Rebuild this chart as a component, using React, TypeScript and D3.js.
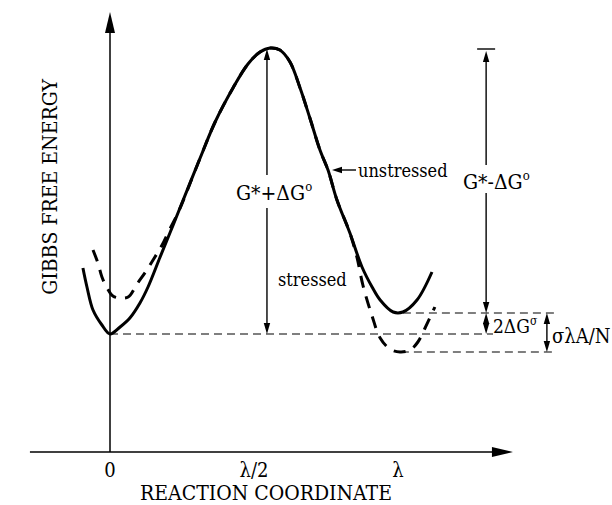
import React from "react";
import * as d3 from "d3";

// Reaction coordinate in units of λ, Gibbs free energy in arbitrary units.
const tickValues = [0, 0.5, 1];
const tickLabels = ["0", "λ/2", "λ"];

// Unstressed free-energy profile (solid curve)
const unstressedX = [
  -0.094, -0.08, -0.059, -0.028, 0, 0.035, 0.069, 0.104, 0.132, 0.174, 0.208, 0.236,
  0.313, 0.365, 0.427, 0.479, 0.521, 0.556, 0.59, 0.625, 0.66, 0.694, 0.729, 0.757,
  0.788, 0.833, 0.875, 0.91, 0.938, 0.983, 1.017, 1.066, 1.118,
];
const unstressedG = [
  18.4, 16.5, 14.2, 12.7, 11.8, 12.5, 13.4, 14.9, 16.5, 19.5, 21.9, 23.9,
  29.4, 33.0, 36.4, 38.8, 40.0, 40.4, 40.2, 39.0, 36.4, 33.4, 30.2, 28.2,
  25.2, 21.9, 18.5, 16.5, 15.2, 14.0, 14.0, 15.2, 18.0,
];

// Stressed free-energy profile (dashed curve)
const stressedX = [
  -0.059, -0.042, -0.028, -0.01, 0.01, 0.035, 0.063, 0.094, 0.128, 0.156, 0.181, 0.208,
  0.236, 0.313, 0.365, 0.427, 0.479, 0.521, 0.556, 0.59, 0.625, 0.66, 0.694, 0.729,
  0.757, 0.788, 0.833, 0.858, 0.878, 0.91, 0.938, 0.972, 1.007, 1.042, 1.069, 1.094, 1.128,
];
const stressedG = [
  20.2, 18.9, 17.5, 16.4, 15.6, 15.4, 15.5, 16.8, 18.2, 19.5, 20.7, 22.3,
  23.9, 29.4, 33.0, 36.4, 38.8, 40.0, 40.4, 40.2, 39.0, 36.4, 33.4, 30.2,
  28.2, 25.2, 21.9, 19.4, 16.7, 13.6, 11.4, 10.3, 10.0, 10.2, 11.0, 12.4, 14.5,
];

// Energy levels used by the annotations
const levelNames = ["initial", "peak", "final", "finalStressed"];
const levelValues = [11.8, 40.3, 13.9, 10.0];
const L = Object.fromEntries(levelNames.map((n, i) => [n, levelValues[i]]));

const W = 612;
const H = 505;
const FONT = "'DejaVu Serif Condensed', 'DejaVu Serif', serif";

export default function App() {
  const x = d3.scaleLinear().domain([0, 1]).range([110, 398]);
  const y = d3.scaleLinear().domain([0, 44]).range([452, 12]);

  const line = d3
    .line<[number, number]>()
    .x((d) => x(d[0]))
    .y((d) => y(d[1]))
    .curve(d3.curveCatmullRom.alpha(0.5));

  const solidPath = line(unstressedX.map((v, i) => [v, unstressedG[i]]) as [number, number][]) || "";
  const dashedPath = line(stressedX.map((v, i) => [v, stressedG[i]]) as [number, number][]) || "";

  const xAxisStart = x(-0.278);
  const xAxisEnd = x(1.399);
  const yAxisTop = y(44);
  const y0 = y(0);

  // filled arrowhead with tip at (tx, ty) pointing along (dx, dy)
  const head = (tx: number, ty: number, dx: number, dy: number, len = 11, half = 3.2) => {
    const bx = tx - dx * len;
    const by = ty - dy * len;
    const px = -dy * half;
    const py = dx * half;
    return `M${tx},${ty}L${bx + px},${by + py}L${bx - px},${by - py}Z`;
  };

  // vertical double arrow with an optional gap for a label
  const vArrow = (xv: number, yTop: number, yBot: number, gap?: [number, number], key?: string) => {
    const parts: React.ReactNode[] = [];
    if (gap) {
      parts.push(<line key="a" x1={xv} x2={xv} y1={yTop + 4} y2={gap[0]} />);
      parts.push(<line key="b" x1={xv} x2={xv} y1={gap[1]} y2={yBot - 4} />);
    } else {
      parts.push(<line key="a" x1={xv} x2={xv} y1={yTop + 4} y2={yBot - 4} />);
    }
    parts.push(<path key="h1" d={head(xv, yTop, 0, -1)} fill="#000" stroke="none" />);
    parts.push(<path key="h2" d={head(xv, yBot, 0, 1)} fill="#000" stroke="none" />);
    return (
      <g key={key} stroke="#000" strokeWidth={1.4}>
        {parts}
      </g>
    );
  };

  const xAnnot = x(1.306);
  const xSigma = x(1.517);
  const textStyle = { fontFamily: FONT, fontStretch: "condensed" as const };

  return (
    <svg width={W} height={H} style={{ position: "absolute", left: 0, top: 0, background: "#fff" }}>
      {/* axes */}
      <g stroke="#000" strokeWidth={1.5}>
        <line x1={xAxisStart} x2={xAxisEnd - 16} y1={y0} y2={y0} />
        <line x1={x(0)} x2={x(0)} y1={y0} y2={yAxisTop + 16} />
      </g>
      <path d={head(xAxisEnd, y0, 1, 0, 21, 5)} fill="#000" />
      <path d={head(x(0), yAxisTop, 0, -1, 21, 5)} fill="#000" />

      {/* tick labels and axis titles */}
      <g style={textStyle} textAnchor="middle" fill="#000">
        {tickValues.map((t, i) => (
          <text key={i} x={x(t)} y={477} fontSize={20}>
            {tickLabels[i]}
          </text>
        ))}
        <text x={266} y={500} fontSize={21}>REACTION COORDINATE</text>
        <text transform={`translate(57,187) rotate(-90)`} fontSize={21}>GIBBS FREE ENERGY</text>
      </g>

      {/* reference levels */}
      <g stroke="#000" strokeWidth={1.1} strokeDasharray="8 5" fill="none">
        <line x1={x(0)} x2={x(1.33)} y1={y(L.initial)} y2={y(L.initial)} />
        <line x1={x(1.017)} x2={x(1.545)} y1={y(L.final)} y2={y(L.final)} />
        <line x1={x(1.01)} x2={x(1.545)} y1={y(L.finalStressed)} y2={y(L.finalStressed)} />
      </g>

      {/* free-energy curves */}
      <path d={solidPath} fill="none" stroke="#000" strokeWidth={3} strokeLinejoin="round" />
      <path d={dashedPath} fill="none" stroke="#000" strokeWidth={3} strokeDasharray="12 9" />

      {/* G* + ΔG° */}
      {vArrow(x(0.545), y(L.peak), y(L.initial), [175, 208], "fwd")}
      {/* G* - ΔG° */}
      <line x1={xAnnot - 9} x2={xAnnot + 9} y1={y(L.peak)} y2={y(L.peak)} stroke="#000" strokeWidth={1.4} />
      {vArrow(xAnnot, y(L.peak) + 2, y(L.final), [165, 193], "rev")}
      {/* 2ΔG^σ */}
      {vArrow(xAnnot, y(L.final), y(L.initial), undefined, "two")}
      {/* σλA/N */}
      {vArrow(xSigma, y(L.final), y(L.finalStressed), undefined, "sig")}

      {/* pointer to the unstressed curve */}
      <g stroke="#000" strokeWidth={1.4}>
        <line x1={356} x2={340} y1={170} y2={170} />
      </g>
      <path d={head(332, 170, -1, 0, 10, 3.2)} fill="#000" />

      <g style={textStyle} fill="#000">
        <text x={236} y={200} fontSize={21}>
          G*+ΔG<tspan fontSize={13} dy={-9}>o</tspan>
        </text>
        <text x={463} y={189} fontSize={21}>
          G*-ΔG<tspan fontSize={13} dy={-9}>o</tspan>
        </text>
        <text x={358} y={177} fontSize={18}>unstressed</text>
        <text x={278} y={286} fontSize={18}>stressed</text>
        <text x={493} y={333} fontSize={19}>
          2ΔG<tspan fontSize={12} dy={-8}>σ</tspan>
        </text>
        <text x={552} y={343} fontSize={20}>σλA/N</text>
      </g>
    </svg>
  );
}
